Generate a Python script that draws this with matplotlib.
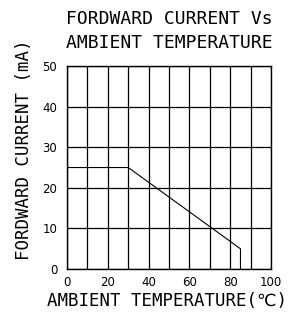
import matplotlib
matplotlib.use("Agg")
import matplotlib.pyplot as plt

# derating curve
temp = [0, 30, 85, 85]
current = [25, 25, 5, 0]

x_ticks = [0, 20, 40, 60, 80, 100]
y_ticks = [0, 10, 20, 30, 40, 50]

mono = ["DejaVu Sans Mono", "DejaVu Sans"]

fig = plt.figure(figsize=(2.89, 3.25), dpi=100)
ax = fig.add_axes([0.232, 0.172, 0.706, 0.625])

ax.plot(temp, current, color="black", lw=0.8)

ax.set_xlim(0, 100)
ax.set_ylim(0, 50)
ax.set_xticks(x_ticks)
ax.set_xticks(range(0, 101, 10), minor=True)
ax.set_yticks(y_ticks)
ax.set_yticks(range(0, 51, 10), minor=True)
ax.grid(True, which="both", color="black", lw=0.9)
ax.tick_params(which="both", length=0, labelsize=8.5)
ax.tick_params(axis="y", pad=7)
ax.tick_params(axis="x", pad=5)
for lab in ax.get_xticklabels() + ax.get_yticklabels():
    lab.set_family("Liberation Sans Narrow")
for s in ax.spines.values():
    s.set_linewidth(1.0)

ax.set_title("FORDWARD CURRENT Vs\nAMBIENT TEMPERATURE", family=mono,
             fontsize=13, linespacing=1.4, pad=13, x=0.5)
ax.set_xlabel("AMBIENT TEMPERATURE(℃)", family=mono, fontsize=12.5)
ax.xaxis.set_label_coords(0.49, -0.112)
ax.set_ylabel("FORDWARD CURRENT (mA)", family=mono, fontsize=12.5)
ax.yaxis.set_label_coords(-0.165, 0.586)

fig.savefig("out.png", dpi=100)
